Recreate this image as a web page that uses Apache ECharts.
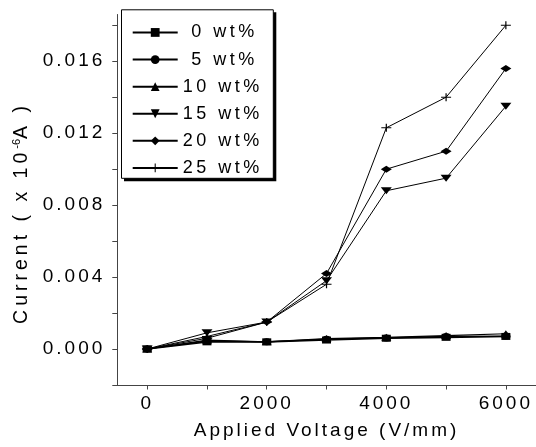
<!DOCTYPE html>
<html>
<head>
<meta charset="utf-8">
<script src="https://cdn.jsdelivr.net/npm/echarts@6/dist/echarts.min.js"></script>
<style>
html,body{margin:0;padding:0;background:#fff;}
#chart{width:536px;height:447px;}
</style>
</head>
<body>
<div id="chart"></div>
<script>
// Letter spacing like the original (Origin-style wide text)
(function(){
  const P = CanvasRenderingContext2D.prototype;
  const d = Object.getOwnPropertyDescriptor(P, 'font');
  if (!d || !('letterSpacing' in P)) return;
  Object.defineProperty(P, 'font', {
    configurable: true, enumerable: d.enumerable,
    get(){ return d.get.call(this); },
    set(v){
      d.set.call(this, v);
      const m = /(\d+(?:\.\d+)?)px/.exec(v);
      const s = m ? parseFloat(m[1]) : 0;
      this.letterSpacing = s >= 19.5 ? '4px' : (s >= 18.5 ? '3px' : (s >= 15 ? '3.5px' : '0px'));
    }
  });
})();

const voltages = [0, 1000, 2000, 3000, 4000, 5000, 6000];
const seriesNames = ['0 wt%', '5 wt%', '10 wt%', '15 wt%', '20 wt%', '25 wt%'];
const wt0  = [0, 0.0004, 0.0004, 0.0005, 0.0006, 0.00065, 0.0007];
const wt5  = [0, 0.00045, 0.0004, 0.00055, 0.00062, 0.0007, 0.00072];
const wt10 = [0, 0.0005, 0.0004, 0.00058, 0.00065, 0.00075, 0.00085];
const wt15 = [0, 0.0009, 0.0015, 0.0038, 0.0088, 0.0095, 0.0135];
const wt20 = [0, 0.0006, 0.0015, 0.0042, 0.0100, 0.0110, 0.0156];
const wt25 = [0, 0.0007, 0.0015, 0.0036, 0.0123, 0.0140, 0.0180];
const xTickLabels = ['0', '2000', '4000', '6000'];
const yTickLabels = ['0.000', '0.004', '0.008', '0.012', '0.016'];

const allValues = [wt0, wt5, wt10, wt15, wt20, wt25];
const symbols = [
  'rect',
  'circle',
  'triangle',
  'path://M0,0L10,0L5,7Z',
  'diamond',
  'path://M0,4.4H10V5.6H0Z M4.4,0H5.6V10H4.4Z'
];
const symbolSizes = [[9,7],[9,7],[10,7],[11,7],[11,7],[10,8]];
const lineWidths = [1.6, 1.2, 1.2, 1, 1, 1];

const FONT = 'Liberation Sans';

const chart = echarts.init(document.getElementById('chart'), null, {renderer: 'canvas'});

const series = seriesNames.map((name, i) => ({
  name: name,
  type: 'line',
  data: voltages.map((v, j) => [v, allValues[i][j]]),
  symbol: symbols[i],
  symbolSize: symbolSizes[i],
  showAllSymbol: true,
  lineStyle: {color: '#000', width: lineWidths[i]},
  itemStyle: {color: '#000', borderWidth: 0},
  emphasis: {disabled: true},
  animation: false,
  z: 2 + i
}));

chart.setOption({
  animation: false,
  backgroundColor: '#fff',
  grid: {left: 117.3, top: 14.5, right: 0, bottom: 58.7, containLabel: false},
  legend: {
    orient: 'vertical',
    left: 121,
    top: 9.3,
    z: 20,
    padding: [12.4, 13.2, 8.6, 10.7],
    itemWidth: 45,
    itemHeight: 11,
    itemGap: 5.6,
    borderWidth: 0,
    selectedMode: false,
    data: seriesNames,
    formatter: function (n) { return n.length < 6 ? ' ' + n : n; },
    textStyle: {fontFamily: FONT, fontSize: 18, color: '#000', lineHeight: 20}
  },
  xAxis: {
    type: 'value',
    min: -500,
    max: 6500,
    splitNumber: 5,
    axisLine: {show: true, onZero: false, lineStyle: {color: '#444', width: 1}},
    axisTick: {show: true, length: 4.5, lineStyle: {color: '#444', width: 1}},
    splitLine: {show: false},
    axisLabel: {
      show: true,
      margin: 8,
      showMinLabel: false,
      showMaxLabel: false,
      fontFamily: FONT, fontSize: 19, color: '#000',
      formatter: function (v) {
        const s = String(Math.round(v));
        return xTickLabels.indexOf(s) >= 0 ? s : '';
      }
    },
    name: 'Applied Voltage (V/mm)',
    nameLocation: 'middle',
    nameGap: 35,
    nameTextStyle: {fontFamily: FONT, fontSize: 19, color: '#000'}
  },
  yAxis: {
    type: 'value',
    min: -0.002,
    max: 0.0186,
    splitNumber: 10,
    axisLine: {show: true, onZero: false, lineStyle: {color: '#444', width: 1}},
    axisTick: {show: true, length: 5, lineStyle: {color: '#444', width: 1}},
    splitLine: {show: false},
    axisLabel: {
      show: true,
      margin: 12,
      showMaxLabel: false,
      fontFamily: FONT, fontSize: 19, color: '#000',
      formatter: function (v) {
        const s = (Math.abs(v) < 1e-9 ? 0 : v).toFixed(3);
        return yTickLabels.indexOf(s) >= 0 ? s : '';
      }
    }
  },
  graphic: [
    {
      type: 'rect', z: 10, silent: true,
      shape: {x: 124, y: 12.3, width: 152.3, height: 169},
      style: {fill: '#000', stroke: null}
    },
    {
      type: 'rect', z: 11, silent: true,
      shape: {x: 121.5, y: 9.8, width: 151.8, height: 168.5},
      style: {fill: '#fff', stroke: '#000', lineWidth: 1}
    },
    {
      type: 'text',
      x: 22,
      y: 213,
      rotation: Math.PI / 2,
      silent: true,
      style: {
        text: '{a|Current ( x 10}{s|-6}{a|A )}',
        align: 'center',
        verticalAlign: 'middle',
        fill: '#000',
        rich: {
          a: {fontFamily: FONT, fontSize: 19.5, color: '#000', lineHeight: 22},
          s: {fontFamily: FONT, fontSize: 11, color: '#000', verticalAlign: 'top', lineHeight: 22}
        }
      }
    }
  ],
  series: series
});
</script>
</body>
</html>
